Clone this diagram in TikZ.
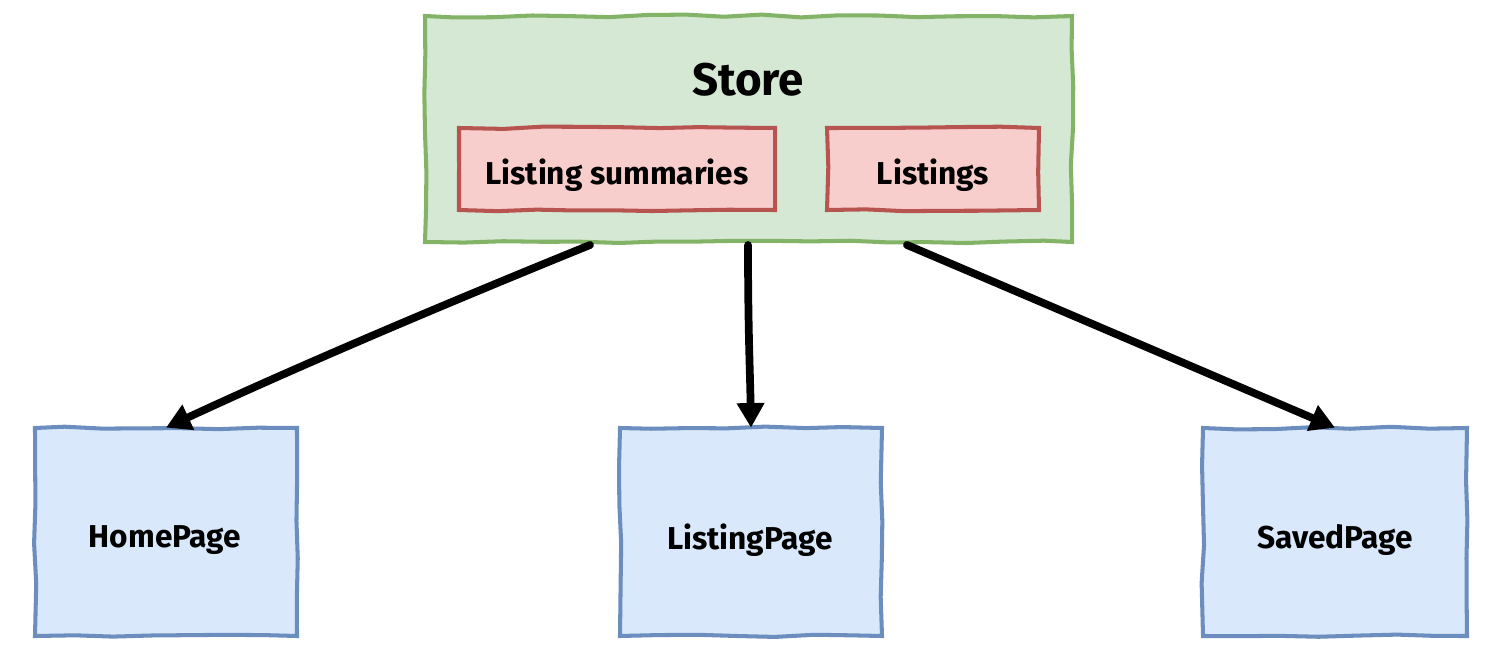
\documentclass[tikz,border=0pt]{standalone}
\usepackage{fontspec}
\setmainfont{Fira Sans}
\usetikzlibrary{arrows.meta,decorations.pathmorphing}
\definecolor{storefill}{HTML}{D5E8D4}
\definecolor{storedraw}{HTML}{82B366}
\definecolor{redfill}{HTML}{F8CECC}
\definecolor{reddraw}{HTML}{B85450}
\definecolor{bluefill}{HTML}{DAE8FC}
\definecolor{bluedraw}{HTML}{6C8EBF}
\tikzset{
  sketch/.style={decorate,decoration={random steps,segment length=22pt,amplitude=0.8pt}},
  storebox/.style={draw=storedraw,fill=storefill,line width=2.3pt,sketch},
  listbox/.style={draw=reddraw,fill=redfill,line width=2.3pt,sketch},
  pagebox/.style={draw=bluedraw,fill=bluefill,line width=2.3pt,sketch},
  lbl/.style={font=\bfseries\fontsize{18}{21}\selectfont},
  conn/.style={line width=4.4pt,-{Triangle[length=14pt,width=15pt]},line cap=round}
}
\begin{document}
\begin{tikzpicture}[x=0.02cm,y=-0.02cm]
\pgfmathsetseed{7}
\useasboundingbox (0,0) rectangle (1500,655);
% Store
\path[storebox] (425,16) rectangle (1072,242);
\node[font=\bfseries\fontsize{26}{30}\selectfont] (storelbl) at (748,80) {Store};
\path[listbox] (459,128) rectangle (775,210);
\node[lbl] (summ) at (617,175) {Listing summaries};
\path[listbox] (827,128) rectangle (1039,210);
\node[lbl] (lst) at (933,175) {Listings};
% pages
\path[pagebox] (35,428) rectangle (297,636);
\node[lbl,minimum width=262*0.02cm,minimum height=208*0.02cm] (home) at (166,532) {};
\node[lbl] (homelbl) at (165,540) {HomePage};
\path[pagebox] (620,428) rectangle (882,636);
\node[lbl,minimum width=262*0.02cm,minimum height=208*0.02cm] (lpage) at (751,532) {};
\node[lbl] (lpagelbl) at (750,540) {ListingPage};
\path[pagebox] (1203,428) rectangle (1467,636);
\node[lbl,minimum width=264*0.02cm,minimum height=208*0.02cm] (saved) at (1335,532) {};
\node[lbl] (savedlbl) at (1335,540) {SavedPage};
% connectors
\coordinate (s1) at (590,245);
\coordinate (s2) at (748,245);
\coordinate (s3) at (907,245);
\draw[conn] (s1) .. controls (430,310) and (290,370) .. (home.north);
\draw[conn] (s2) .. controls (748,330) and (750,370) .. (lpage.north);
\draw[conn] (s3) .. controls (1060,310) and (1200,370) .. (saved.north);
\end{tikzpicture}
\end{document}
